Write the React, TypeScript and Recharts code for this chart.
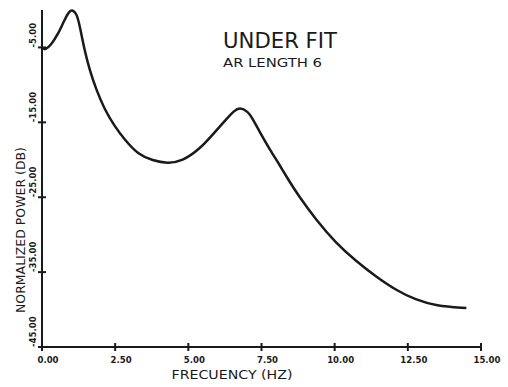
import { Customized, Line, LineChart, XAxis, YAxis } from 'recharts';

// spectrum (Hz, dB)
const FREQ = [0, 0.12, 0.3, 0.54, 0.77, 0.94, 1.05, 1.19, 1.3, 1.45, 1.62, 1.85, 2.14, 2.48, 2.82, 3.28, 3.78, 4.29, 4.79, 5.38, 5.84, 6.29, 6.58, 6.75, 7.03, 7.21, 7.44, 7.78, 8.12, 8.47, 8.75, 9.36, 10.04, 10.72, 11.41, 12.09, 12.77, 13.45, 14.5];
const POWER = [-5.1, -5.3, -4.7, -3.3, -1.3, -0.1, 0, -0.5, -2.3, -5.3, -7.9, -10.6, -13.3, -15.5, -17.3, -19.3, -20.1, -20.5, -20.2, -18.6, -16.6, -14.6, -13.4, -13.0, -13.5, -14.6, -16.3, -18.6, -20.7, -23.0, -24.7, -28.0, -31.1, -33.5, -35.6, -37.4, -38.7, -39.5, -39.8];

const X_TICKS = [0, 2.5, 5, 7.5, 10, 12.5, 15];
const Y_TICKS = [-45, -35, -25, -15, -5];

const TITLE = 'UNDER FIT';
const SUBTITLE = 'AR LENGTH 6';
const X_LABEL = 'FRECUENCY (HZ)';
const Y_LABEL = 'NORMALIZED POWER (DB)';

const INK = '#1a1a1a';
const FONT = '"DejaVu Sans Condensed", "DejaVu Sans", sans-serif';

const data = FREQ.map((f, i) => ({ f, p: POWER[i] }));

function XTick({ x, y, payload }: { x?: number; y?: number; payload?: { value: number } }) {
  if (x == null || y == null || !payload) return null;
  return (
    <g>
      <line x1={x} x2={x} y1={y - 4} y2={y + 4} stroke={INK} strokeWidth={2} />
      <text x={x + 6} y={y + 16} textAnchor="middle" fontFamily={FONT} fontWeight="bold" fontSize={9.5} fill={INK}>
        {payload.value.toFixed(2)}
      </text>
    </g>
  );
}

function YTick({ x, y, payload }: { x?: number; y?: number; payload?: { value: number } }) {
  if (x == null || y == null || !payload) return null;
  return (
    <g>
      <line x1={x - 4} x2={x + 4} y1={y} y2={y} stroke={INK} strokeWidth={2} />
      <text
        x={x - 6}
        y={y}
        transform={`rotate(-90 ${x - 6} ${y})`}
        textAnchor="start"
        fontFamily={FONT}
        fontWeight="bold"
        fontSize={9.5}
        fill={INK}
      >
        {payload.value.toFixed(2)}
      </text>
    </g>
  );
}

function Titles() {
  return (
    <g fill={INK} fontFamily={FONT}>
      <text x={223} y={48} fontSize={21} textLength={114} lengthAdjust="spacingAndGlyphs">
        {TITLE}
      </text>
      <text x={223} y={67} fontSize={13} textLength={99} lengthAdjust="spacingAndGlyphs">
        {SUBTITLE}
      </text>
      <text x={232} y={379} fontSize={12} textAnchor="middle" textLength={121} lengthAdjust="spacingAndGlyphs">
        {X_LABEL}
      </text>
      <text
        x={25}
        y={230}
        fontSize={13}
        textAnchor="middle"
        transform="rotate(-90 25 230)"
        textLength={166}
        lengthAdjust="spacingAndGlyphs"
      >
        {Y_LABEL}
      </text>
    </g>
  );
}

export default function App() {
  return (
    <div style={{ position: 'absolute', left: 0, top: 0, width: 508, height: 387, background: '#fff' }}>
      <LineChart width={508} height={387} data={data} margin={{ top: 10, right: 27, left: 0, bottom: 0 }}>
        <XAxis
          dataKey="f"
          type="number"
          domain={[0, 15]}
          ticks={X_TICKS}
          height={40}
          tickSize={0}
          tickMargin={0}
          tickLine={false}
          tick={<XTick />}
          axisLine={{ stroke: INK, strokeWidth: 2 }}
          interval={0}
        />
        <YAxis
          dataKey="p"
          type="number"
          domain={[-45, 0]}
          ticks={Y_TICKS}
          width={42}
          tickSize={0}
          tickMargin={0}
          tickLine={false}
          tick={<YTick />}
          axisLine={{ stroke: INK, strokeWidth: 2 }}
          interval={0}
        />
        <Line
          dataKey="p"
          type="basis"
          stroke={INK}
          strokeWidth={2.5}
          dot={false}
          isAnimationActive={false}
        />
        <Customized component={<Titles />} />
      </LineChart>
    </div>
  );
}
